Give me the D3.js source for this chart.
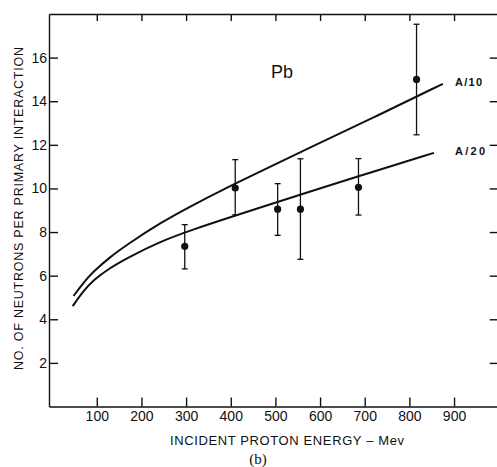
<!DOCTYPE html>
<html>
<head>
<meta charset="utf-8">
<title>Pb neutrons</title>
<script src="https://cdn.jsdelivr.net/npm/d3@7"></script>
<style>
body { margin: 0; background: #fff; }
svg { display: block; }
.axis path, .axis line { stroke: #111; stroke-width: 1.4px; }
.axis text { font-family: "Liberation Sans", Arial, sans-serif; font-size: 14px; fill: #111; }
.curve { fill: none; stroke: #111; stroke-width: 2px; }
.err { stroke: #111; stroke-width: 1.3px; }
.dot { fill: #111; }
.lbl { font-family: "Liberation Sans", Arial, sans-serif; fill: #111; }
</style>
</head>
<body>
<svg width="497" height="467"></svg>
<script>
// ticks
var xTicks = [100, 200, 300, 400, 500, 600, 700, 800, 900];
var yTicks = [2, 4, 6, 8, 10, 12, 14, 16];

// calculated curves
var a10Energy = [48, 70, 92, 130, 167, 241, 316, 390, 450, 569, 717, 875];
var a10Value  = [5.07, 5.68, 6.18, 6.86, 7.41, 8.41, 9.25, 10.02, 10.62, 11.8, 13.22, 14.8];
var a20Energy = [46, 68, 92, 130, 167, 241, 316, 390, 465, 569, 717, 855];
var a20Value  = [4.6, 5.25, 5.8, 6.36, 6.8, 7.56, 8.12, 8.62, 9.12, 9.8, 10.76, 11.63];

// measured points with error bars
var ptEnergy = [297, 410, 505, 556, 686, 816];
var ptValue  = [7.35, 10.02, 9.05, 9.05, 10.05, 15.0];
var ptLow    = [6.31, 8.79, 7.85, 6.75, 8.78, 12.46];
var ptHigh   = [8.34, 11.32, 10.22, 11.36, 11.37, 17.53];

var svg = d3.select("svg");
var pArea = [49, 14, 498.7, 406.5];

var x = d3.scaleLinear().domain([-7, 1000]).range([pArea[0], pArea[2]]);
var y = d3.scaleLinear().domain([0, 18]).range([pArea[3], pArea[1]]);

var g = svg.append("g");

g.append("g")
  .attr("class", "axis")
  .attr("transform", `translate(0,${pArea[3]})`)
  .call(d3.axisBottom(x).tickValues(xTicks).tickSize(-9).tickSizeOuter(0).tickPadding(5).tickFormat(d3.format("d")));
g.append("g")
  .attr("class", "axis")
  .attr("transform", `translate(0,${pArea[1]})`)
  .call(d3.axisTop(x).tickValues(xTicks).tickSize(-7).tickSizeOuter(0).tickFormat(""));
g.append("g")
  .attr("class", "axis")
  .attr("transform", `translate(${pArea[0]},0)`)
  .call(d3.axisLeft(y).tickValues(yTicks).tickSize(-9).tickSizeOuter(0).tickPadding(2).tickFormat(d3.format("d")));
g.append("g")
  .attr("class", "axis")
  .attr("transform", `translate(${pArea[2]},0)`)
  .call(d3.axisRight(y).tickValues(yTicks).tickSize(-9).tickSizeOuter(0).tickFormat(""));

var line = d3.line()
  .x(function (d) { return x(d[0]); })
  .y(function (d) { return y(d[1]); })
  .curve(d3.curveBasis);

g.append("path").attr("class", "curve")
  .attr("d", line(d3.zip(a10Energy, a10Value)));
g.append("path").attr("class", "curve")
  .attr("d", line(d3.zip(a20Energy, a20Value)));

var pts = d3.range(ptEnergy.length).map(function (i) {
  return {e: ptEnergy[i], v: ptValue[i], lo: ptLow[i], hi: ptHigh[i]};
});
var pg = g.selectAll(".pt").data(pts).enter().append("g").attr("class", "pt");
pg.append("line").attr("class", "err")
  .attr("x1", function (d) { return x(d.e); }).attr("x2", function (d) { return x(d.e); })
  .attr("y1", function (d) { return y(d.lo); }).attr("y2", function (d) { return y(d.hi); });
pg.append("line").attr("class", "err")
  .attr("x1", function (d) { return x(d.e) - 3; }).attr("x2", function (d) { return x(d.e) + 3; })
  .attr("y1", function (d) { return y(d.lo); }).attr("y2", function (d) { return y(d.lo); });
pg.append("line").attr("class", "err")
  .attr("x1", function (d) { return x(d.e) - 3; }).attr("x2", function (d) { return x(d.e) + 3; })
  .attr("y1", function (d) { return y(d.hi); }).attr("y2", function (d) { return y(d.hi); });
pg.append("circle").attr("class", "dot")
  .attr("cx", function (d) { return x(d.e); })
  .attr("cy", function (d) { return y(d.v); })
  .attr("r", 3.6);

// labels
g.append("text").attr("class", "lbl")
  .attr("x", 271).attr("y", 78).style("font-size", "18px")
  .text("Pb");
g.append("text").attr("class", "lbl")
  .attr("x", 455).attr("y", 86).style("font-size", "11px").style("font-weight", "bold")
  .attr("textLength", 27).attr("lengthAdjust", "spacing")
  .text("A/10");
g.append("text").attr("class", "lbl")
  .attr("x", 455).attr("y", 155).style("font-size", "11px").style("font-weight", "bold")
  .attr("textLength", 30).attr("lengthAdjust", "spacing")
  .text("A/20");

g.append("text").attr("class", "lbl")
  .attr("x", 170).attr("y", 445).style("font-size", "13px")
  .attr("textLength", 234).attr("lengthAdjust", "spacing")
  .text("INCIDENT PROTON ENERGY \u2013 Mev");
g.append("text").attr("class", "lbl")
  .attr("transform", "rotate(-90)")
  .attr("x", -370).attr("y", 23).style("font-size", "12.5px")
  .attr("textLength", 323).attr("lengthAdjust", "spacing")
  .text("NO. OF NEUTRONS PER PRIMARY INTERACTION");
g.append("text")
  .attr("x", 258).attr("y", 464)
  .style("font-family", "'Liberation Serif', 'DejaVu Serif', serif").style("font-size", "15px")
  .attr("text-anchor", "middle").attr("fill", "#111")
  .text("(b)");
</script>
</body>
</html>
